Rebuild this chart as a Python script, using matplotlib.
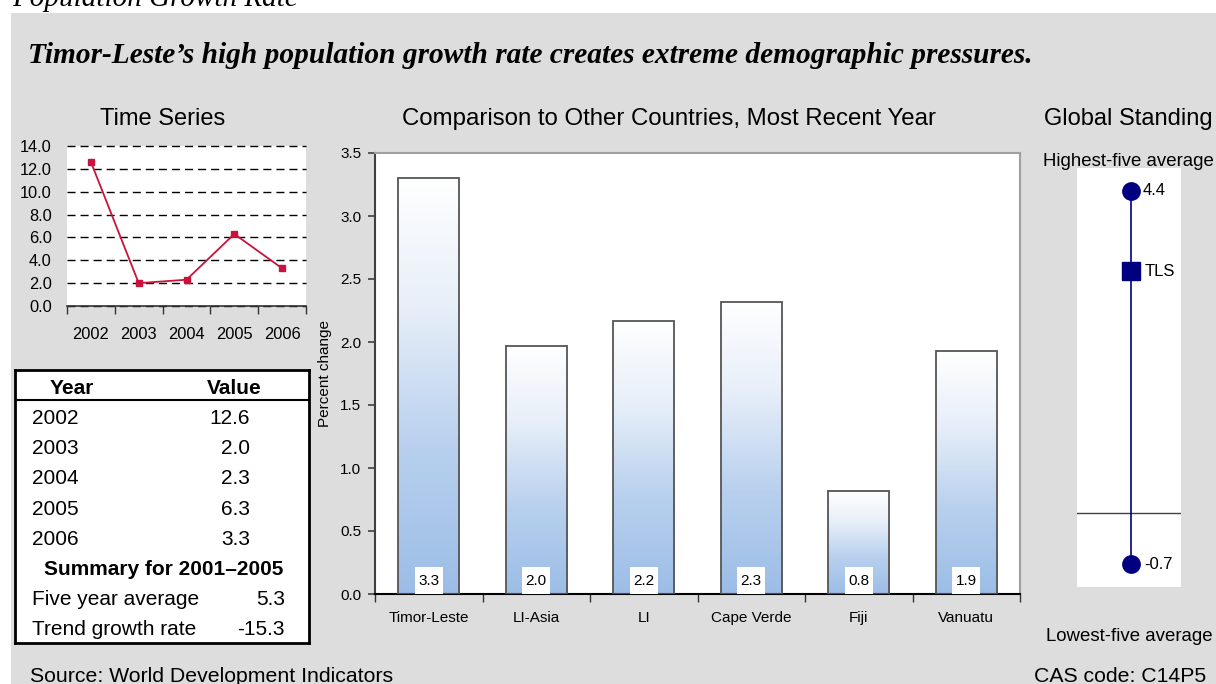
import numpy as np
import matplotlib
matplotlib.use("Agg")
import matplotlib.pyplot as plt
from matplotlib.patches import Rectangle
from matplotlib.colors import LinearSegmentedColormap
from matplotlib.ticker import FormatStrFormatter

# ---- data -------------------------------------------------------------
years = ["2002", "2003", "2004", "2005", "2006"]
growth = [12.6, 2.0, 2.3, 6.3, 3.3]

summary_title = "Summary for 2001\u20132005"
summary_labels = ["Five year average", "Trend growth rate"]
summary_values = [5.3, -15.3]

countries = ["Timor-Leste", "LI-Asia", "LI", "Cape Verde", "Fiji", "Vanuatu"]
country_growth = [3.30, 1.97, 2.17, 2.32, 0.82, 1.93]

standing_high = 4.4
standing_low = -0.7
standing_tls = 3.3
standing_code = "TLS"

# ---- styling ------------------------------------------------------------
SANS = "Liberation Sans"
SERIF = "Liberation Serif"
plt.rcParams["font.family"] = SANS
GRAY_BG = "#DDDDDD"
LINE_RED = "#C8143C"
NAVY = "#000080"

W, H = 1216, 684
fig = plt.figure(figsize=(W / 100, H / 100), dpi=100)
fig.patch.set_facecolor("white")


def fx(px):
    return px / W


def fy(py):
    return 1 - py / H


def box(x0, y0, x1, y1):
    return [fx(x0), fy(y1), (x1 - x0) / W, (y1 - y0) / H]


# grey panel behind everything
fig.add_artist(Rectangle((fx(11), 0), 1 - fx(11), fy(13), transform=fig.transFigure,
                         facecolor=GRAY_BG, edgecolor="none", zorder=-10))

# headings
fig.text(fx(12), fy(6), "Population Growth Rate", family=SERIF, style="italic",
         fontsize=21, va="baseline", ha="left")
fig.text(fx(28), fy(63),
         "Timor-Leste\u2019s high population growth rate creates extreme demographic pressures.",
         family=SERIF, style="italic", weight="bold", fontsize=21.2, va="baseline", ha="left")
fig.text(fx(163), fy(125), "Time Series", fontsize=17, ha="center", va="baseline")
fig.text(fx(669), fy(125), "Comparison to Other Countries, Most Recent Year", fontsize=17.3,
         ha="center", va="baseline")
fig.text(fx(1128), fy(125), "Global Standing", fontsize=17, ha="center", va="baseline")
fig.text(fx(1128), fy(166), "Highest-five average", fontsize=13.4, ha="center", va="baseline")
fig.text(fx(1129), fy(641), "Lowest-five average", fontsize=13.4, ha="center", va="baseline")
fig.text(fx(30), fy(682), "Source: World Development Indicators", fontsize=15.3,
         ha="left", va="baseline")
fig.text(fx(1206), fy(682), "CAS code: C14P5", fontsize=15.3, ha="right", va="baseline")

# ---- time series --------------------------------------------------------
ax1 = fig.add_axes(box(67, 146, 306, 306))
ax1.set_facecolor("white")
xt = np.arange(len(years))
ax1.plot(xt, growth, color=LINE_RED, lw=1.3, marker="s", ms=4.5, zorder=3)
ax1.set_xlim(-0.5, len(years) - 0.5)
ax1.set_ylim(0, 14)
ax1.set_yticks(np.arange(0, 14.01, 2))
ax1.yaxis.set_major_formatter(FormatStrFormatter("%.1f"))
ax1.tick_params(axis="y", length=0, pad=11, labelsize=11.8)
ax1.set_xticks(xt)
ax1.set_xticklabels(years)
ax1.set_xticks(np.arange(-0.5, len(years)), minor=True)
ax1.tick_params(axis="x", which="major", length=0, pad=15, labelsize=11.8)
ax1.tick_params(axis="x", which="minor", length=6, width=1, color="#333333")
for s in ["top", "right", "left"]:
    ax1.spines[s].set_visible(False)
ax1.spines["bottom"].set_color("#333333")
ax1.spines["bottom"].set_linewidth(1.2)
ax1.yaxis.grid(True, linestyle=(0, (5.8, 3.6)), color="black", lw=1, clip_on=False)
ax1.set_axisbelow(True)

# ---- table --------------------------------------------------------------
axt = fig.add_axes(box(15, 370, 309, 643))
axt.set_xlim(15, 309)
axt.set_ylim(643, 370)
axt.set_xticks([])
axt.set_yticks([])
axt.set_facecolor("white")
for s in axt.spines.values():
    s.set_linewidth(2)
    s.set_color("black")
TFS = 15
axt.text(72, 394, "Year", fontsize=TFS, weight="bold", ha="center", va="baseline")
axt.text(234, 394, "Value", fontsize=TFS, weight="bold", ha="center", va="baseline")
axt.plot([15, 309], [400, 400], color="black", lw=1.5)
for i, (yr, v) in enumerate(zip(years, growth)):
    yb = 424 + 30.2 * i
    axt.text(32, yb, yr, fontsize=TFS, ha="left", va="baseline")
    axt.text(250, yb, f"{v:.1f}", fontsize=TFS, ha="right", va="baseline")
axt.text(164, 575, summary_title, fontsize=TFS, weight="bold", ha="center", va="baseline")
for i, (lab, v) in enumerate(zip(summary_labels, summary_values)):
    yb = 605 + 30 * i
    axt.text(32, yb, lab, fontsize=TFS, ha="left", va="baseline")
    axt.text(285, yb, f"{v:.1f}", fontsize=TFS, ha="right", va="baseline")

# ---- country comparison -------------------------------------------------
ax2 = fig.add_axes(box(375, 153, 1020, 594))
ax2.set_facecolor("white")
xb = np.arange(len(countries))
bars = ax2.bar(xb, country_growth, width=0.57, facecolor="none", edgecolor="#555555",
               lw=1.3, zorder=3)
fade = LinearSegmentedColormap.from_list(
    "fade", [(0.0, "#FFFFFF"), (0.3, "#E8EFF9"), (0.65, "#B8D0EE"), (1.0, "#9CBDE6")])
grad = np.linspace(1, 0, 256).reshape(-1, 1)
for r in bars:
    x0, w, h = r.get_x(), r.get_width(), r.get_height()
    ax2.imshow(grad, extent=[x0, x0 + w, 0, h], origin="lower", aspect="auto",
               cmap=fade, vmin=0, vmax=1, zorder=2, interpolation="bilinear")
    xc = x0 + w / 2
    ax2.add_patch(Rectangle((xc - 0.128, 0), 0.256, 0.214, facecolor="white",
                            edgecolor="none", zorder=4))
    ax2.text(xc, 0.107, f"{h:.1f}", fontsize=11, ha="center", va="center", zorder=5)
ax2.set_xlim(-0.5, len(countries) - 0.5)
ax2.set_ylim(0, 3.5)
ax2.set_yticks(np.arange(0, 3.51, 0.5))
ax2.yaxis.set_major_formatter(FormatStrFormatter("%.1f"))
ax2.tick_params(axis="y", length=5, width=1.2, color="#404040", pad=5, labelsize=11)
ax2.set_xticks(xb)
ax2.set_xticklabels(countries)
ax2.set_xticks(np.arange(-0.5, len(countries)), minor=True)
ax2.tick_params(axis="x", which="major", length=0, pad=12, labelsize=11)
ax2.tick_params(axis="x", which="minor", length=6, width=1, color="#333333")
ax2.set_ylabel("Percent change", fontsize=11, labelpad=6)
ax2.spines["left"].set_color("#404040")
ax2.spines["left"].set_linewidth(1.5)
ax2.spines["bottom"].set_color("black")
ax2.spines["bottom"].set_linewidth(1.5)
for s in ["top", "right"]:
    ax2.spines[s].set_color("#A0A0A0")
    ax2.spines[s].set_linewidth(1.5)

# ---- global standing ----------------------------------------------------
ax3 = fig.add_axes(box(1077, 168, 1181, 587))
ax3.set_facecolor("white")
ax3.set_xlim(0, 1)
ax3.set_ylim(-1.014, 4.714)
xs = 0.52
ax3.plot([xs, xs], [standing_low, standing_high], color=NAVY, lw=1.2, zorder=2)
ax3.axhline(0, color="#404040", lw=1, zorder=1)
ax3.plot([xs, xs], [standing_high, standing_low], "o", ms=12.5, color=NAVY, zorder=3)
ax3.plot([xs], [standing_tls], "s", ms=13, color=NAVY, zorder=3)
for val, lab, off in [(standing_high, f"{standing_high:.1f}", 8.5),
                      (standing_tls, standing_code, 10),
                      (standing_low, f"{standing_low:.1f}", 9.5)]:
    ax3.annotate(lab, (xs, val), xytext=(off, 0), textcoords="offset points",
                 fontsize=12, ha="left", va="center")
ax3.set_xticks([])
ax3.set_yticks([])
for s in ax3.spines.values():
    s.set_visible(False)

fig.savefig("out.png", dpi=100)
